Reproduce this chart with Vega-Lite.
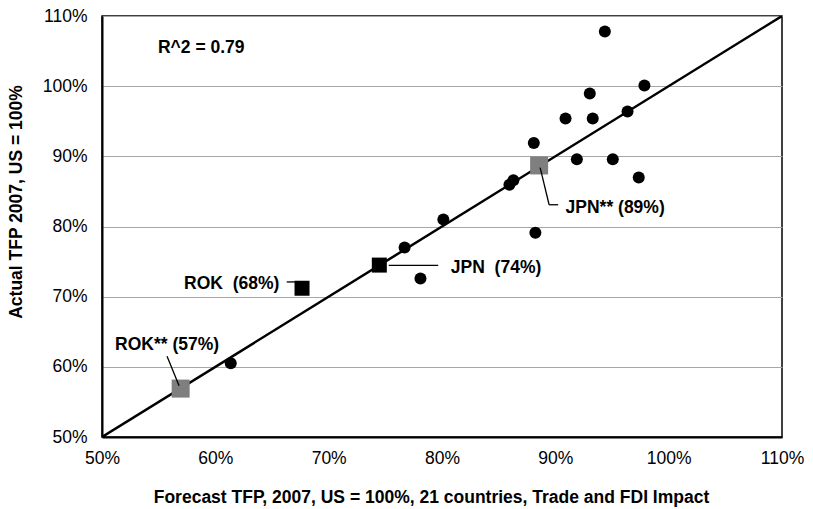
{
  "$schema": "https://vega.github.io/schema/vega-lite/v6.json",
  "width": 680,
  "height": 421,
  "autosize": {"type": "none"},
  "padding": {"left": 102, "top": 16, "right": 31, "bottom": 72},
  "background": "white",
  "config": {
    "font": "Liberation Sans",
    "view": {"stroke": "black", "strokeWidth": 1.5},
    "axis": {
      "labelFont": "Liberation Sans",
      "labelFontSize": 17.5,
      "labelColor": "black",
      "labelFlush": false,
      "labelOverlap": false,
      "titleFont": "Liberation Sans",
      "titleFontSize": 17.5,
      "titleFontWeight": "bold",
      "titleColor": "black",
      "ticks": false,
      "domainColor": "black",
      "domainWidth": 2
    }
  },
  "layer": [
    {
      "data": {"values": [{"fx": 50, "ay": 50}, {"fx": 110, "ay": 110}]},
      "mark": {"type": "line", "color": "black", "strokeWidth": 2.5, "clip": true},
      "encoding": {
        "x": {
          "field": "fx", "type": "quantitative",
          "scale": {"domain": [50, 110], "nice": false, "zero": false},
          "axis": {
            "values": [50, 60, 70, 80, 90, 100, 110],
            "labelExpr": "datum.value + '%'",
            "grid": false,
            "labelPadding": 12,
            "title": "Forecast TFP, 2007, US = 100%, 21 countries, Trade and FDI Impact",
            "titleX": 329,
            "titleY": 60,
            "titleBaseline": "middle"
          }
        },
        "y": {
          "field": "ay", "type": "quantitative",
          "scale": {"domain": [50, 110], "nice": false, "zero": false},
          "axis": {
            "values": [50, 60, 70, 80, 90, 100, 110],
            "labelExpr": "datum.value + '%'",
            "grid": true,
            "gridColor": "#a6a6a6",
            "gridWidth": 1.2,
            "labelPadding": 15,
            "title": "Actual TFP 2007, US = 100%",
            "titleX": -86,
            "titleY": 185.5,
            "titleBaseline": "middle"
          }
        }
      }
    },
    {
      "data": {"values": [
        {"fx": 94.37, "ay": 107.8},
        {"fx": 97.86, "ay": 100.1},
        {"fx": 93.04, "ay": 98.96},
        {"fx": 96.37, "ay": 96.4},
        {"fx": 90.9, "ay": 95.4},
        {"fx": 93.3, "ay": 95.4},
        {"fx": 88.1, "ay": 91.9},
        {"fx": 91.9, "ay": 89.6},
        {"fx": 95.07, "ay": 89.6},
        {"fx": 97.36, "ay": 87.0},
        {"fx": 86.3, "ay": 86.6},
        {"fx": 85.95, "ay": 85.95},
        {"fx": 80.12, "ay": 81.0},
        {"fx": 88.24, "ay": 79.1},
        {"fx": 76.7, "ay": 77.0},
        {"fx": 78.1, "ay": 72.6},
        {"fx": 61.36, "ay": 60.5}
      ]},
      "mark": {"type": "point", "shape": "circle", "filled": true, "color": "black", "size": 144, "opacity": 1},
      "encoding": {
        "x": {"field": "fx", "type": "quantitative"},
        "y": {"field": "ay", "type": "quantitative"}
      }
    },
    {
      "data": {"values": [
        {"country": "JPN**", "fx": 88.57, "ay": 88.7, "kind": "adjusted"},
        {"country": "ROK**", "fx": 56.94, "ay": 56.9, "kind": "adjusted"},
        {"country": "JPN", "fx": 74.47, "ay": 74.5, "kind": "actual"},
        {"country": "ROK", "fx": 67.65, "ay": 71.2, "kind": "actual"}
      ]},
      "mark": {"type": "point", "shape": "square", "filled": true, "opacity": 1},
      "encoding": {
        "x": {"field": "fx", "type": "quantitative"},
        "y": {"field": "ay", "type": "quantitative"},
        "color": {"field": "kind", "type": "nominal", "scale": {"domain": ["adjusted", "actual"], "range": ["#7f7f7f", "black"]}, "legend": null},
        "size": {"field": "kind", "type": "nominal", "scale": {"domain": ["adjusted", "actual"], "range": [324, 225]}, "legend": null}
      }
    },
    {
      "data": {"values": [
        {"fx": 88.66, "ay": 88.4, "fx2": 89.45, "ay2": 83.1},
        {"fx": 89.45, "ay": 83.1, "fx2": 90.25, "ay2": 83.1},
        {"fx": 75.3, "ay": 74.45, "fx2": 79.66, "ay2": 74.45},
        {"fx": 66.3, "ay": 72.1, "fx2": 67.4, "ay2": 72.1},
        {"fx": 55.74, "ay": 61.5, "fx2": 56.8, "ay2": 57.3}
      ]},
      "mark": {"type": "rule", "color": "black", "strokeWidth": 1.3},
      "encoding": {
        "x": {"field": "fx", "type": "quantitative"},
        "y": {"field": "ay", "type": "quantitative"},
        "x2": {"field": "fx2"},
        "y2": {"field": "ay2"}
      }
    },
    {
      "data": {"values": [
        {"label": "JPN** (89%)", "fx": 90.9, "ay": 82.7},
        {"label": "JPN\u00a0 (74%)", "fx": 80.78, "ay": 74.13},
        {"label": "ROK\u00a0 (68%)", "fx": 57.24, "ay": 71.75},
        {"label": "ROK** (57%)", "fx": 51.15, "ay": 63.1},
        {"label": "R^2 = 0.79", "fx": 54.94, "ay": 105.5}
      ]},
      "mark": {"type": "text", "align": "left", "baseline": "middle", "fontWeight": "bold", "fontSize": 17.5, "color": "black", "font": "Liberation Sans"},
      "encoding": {
        "x": {"field": "fx", "type": "quantitative"},
        "y": {"field": "ay", "type": "quantitative"},
        "text": {"field": "label"}
      }
    }
  ]
}
